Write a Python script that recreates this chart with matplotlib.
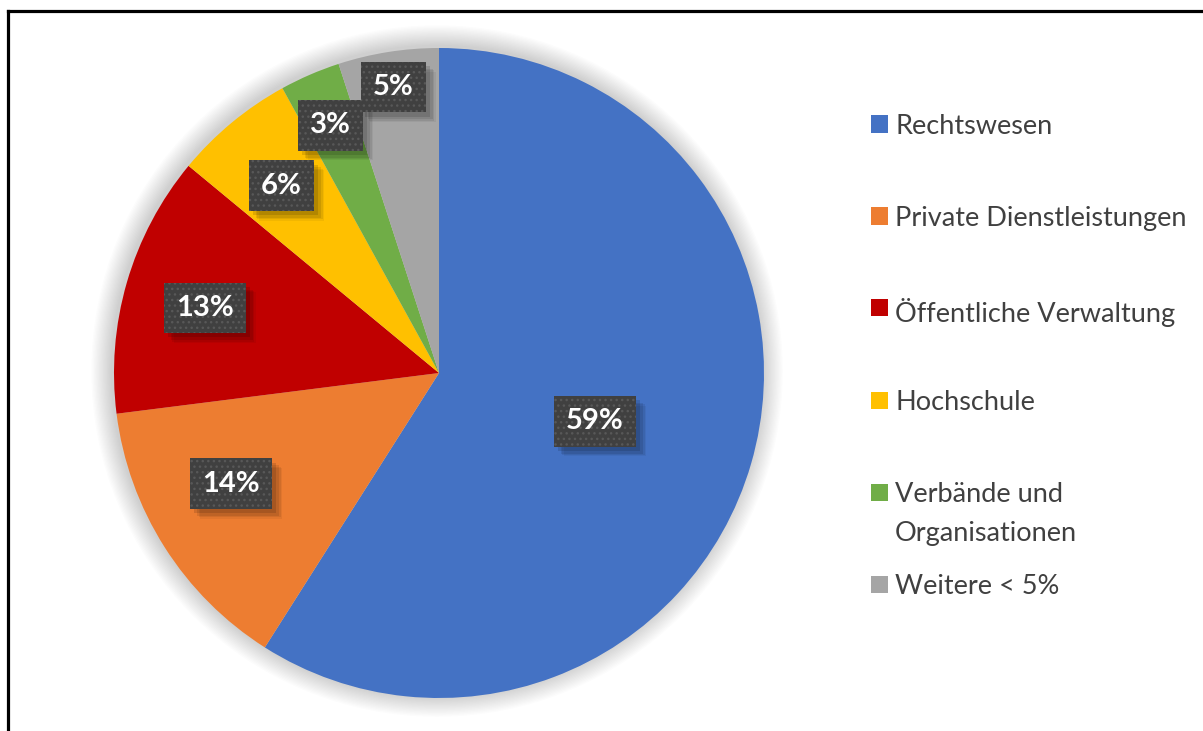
import matplotlib
matplotlib.use("Agg")
import matplotlib.pyplot as plt
import numpy as np
from matplotlib.patches import Circle, Rectangle
from matplotlib.lines import Line2D
from matplotlib.transforms import offset_copy
import matplotlib.patheffects as pe

# ---- data ----
categories = ["Rechtswesen", "Private Dienstleistungen", "Öffentliche Verwaltung",
              "Hochschule", "Verbände und\nOrganisationen", "Weitere < 5%"]
values = [59, 14, 13, 6, 3, 5]
pct_labels = ["59%", "14%", "13%", "6%", "3%", "5%"]
colors = ["#4472C4", "#ED7D31", "#C00000", "#FFC000", "#70AD47", "#A5A5A5"]

# label placement (layout only): radial distance and angular tweak per slice
label_dist = [0.50, 0.72, 0.75, 0.76, 0.84, 0.90]
label_dang = [0, -5, 0, 0, 0, 0]

W, H = 1203, 731
fig = plt.figure(figsize=(W / 100, H / 100), dpi=100)
fig.patch.set_facecolor("white")

# pie axes: centre (439, 373) px from top-left, radius 325 px
cx, cy, r = 439, 373, 325
ax = fig.add_axes([(cx - r) / W, (H - cy - r) / H, 2 * r / W, 2 * r / H])

wedges, _ = ax.pie(values, colors=colors, startangle=90, counterclock=False,
                   radius=1.0, wedgeprops=dict(linewidth=0))
ax.set_xlim(-1, 1)
ax.set_ylim(-1, 1)
ax.set_aspect("equal")
ax.axis("off")
for w in wedges:
    w.set_zorder(1)
    w.set_clip_on(False)

# soft glow/shadow around pie
for k in range(16):
    ax.add_patch(Circle((-0.006, 0.006), 1.0 + 0.004 * (16 - k), color="black",
                        alpha=0.011, lw=0, zorder=0, clip_on=False))


class SoftShadow(pe.AbstractPathEffect):
    """Plain (un-hatched) offset shadow for the label boxes."""
    def __init__(self, offset, alpha):
        super().__init__(offset)
        self._a = alpha

    def draw_path(self, renderer, gc, tpath, affine, rgbFace=None):
        gc0 = renderer.new_gc()
        gc0.copy_properties(gc)
        gc0.set_hatch(None)
        gc0.set_linewidth(0)
        gc0.set_alpha(self._a)
        renderer.draw_path(gc0, tpath, affine + self._offset_transform(renderer), (0, 0, 0))
        gc0.restore()


shadow = [SoftShadow((7, -7), 0.05), SoftShadow((6, -6), 0.07),
          SoftShadow((5, -5), 0.09), SoftShadow((3, -3), 0.12), pe.Normal()]

lbl_tr = offset_copy(ax.transData, fig=fig, x=0, y=-3, units="dots")
font_lbl = dict(family=["Lato", "DejaVu Sans"], weight="bold", size=21)
for w, lab, d, da in zip(wedges, pct_labels, label_dist, label_dang):
    th = np.deg2rad((w.theta1 + w.theta2) / 2 + da)
    x, y = d * np.cos(th), d * np.sin(th)
    t = ax.text(x, y, lab, ha="center", va="center", color="white", transform=lbl_tr,
                bbox=dict(boxstyle="square,pad=0.42", fc="#404040", ec="#585858", lw=0, hatch="..."),
                zorder=4, **font_lbl)
    t.get_bbox_patch().set_path_effects(shadow)

# ---- legend (manual, Excel-like) ----
leg_x_box = 871 / W
leg_x_txt = 895 / W
leg_y0 = 124
leg_gap = 92
box = 17
for i, (cat, col) in enumerate(zip(categories, colors)):
    yc = leg_y0 + leg_gap * i
    fig.add_artist(Rectangle((leg_x_box, (H - yc - box / 2) / H), box / W, box / H,
                             transform=fig.transFigure, facecolor=col, edgecolor="none"))
    fig.text(leg_x_txt, (H - yc + 10) / H, cat, ha="left", va="top", color="#404040",
             family=["Lato", "DejaVu Sans"], size=19.5, linespacing=1.72)

# ---- frame lines (left and top) ----
fig.add_artist(Line2D([8 / W, 8 / W], [0, 1 - 11 / H], transform=fig.transFigure,
                      color="black", lw=2.3, solid_capstyle="projecting"))
fig.add_artist(Line2D([8 / W, 1], [1 - 11 / H, 1 - 11 / H], transform=fig.transFigure,
                      color="black", lw=2.3, solid_capstyle="projecting"))

fig.savefig("out.png", dpi=100, facecolor="white")
